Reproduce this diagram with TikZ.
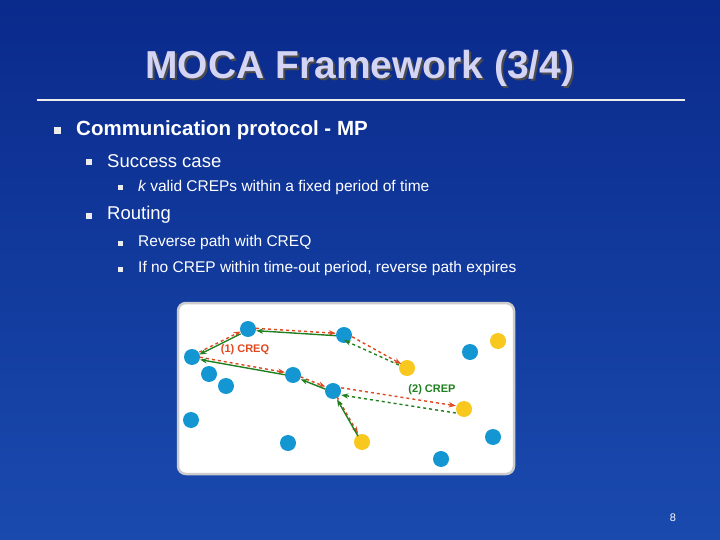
\documentclass[tikz,border=0pt]{standalone}
\usepackage{fontspec}
\setmainfont{Liberation Sans}
\usetikzlibrary{arrows.meta}
\definecolor{bgA}{HTML}{0A2A8C}
\definecolor{bgB}{HTML}{1A4AAE}
\definecolor{ttl}{HTML}{D4D4F4}
\definecolor{nb}{HTML}{1496D2}
\definecolor{ny}{HTML}{F8C81E}
\definecolor{rd}{HTML}{E04820}
\definecolor{gr}{HTML}{208020}
\tikzset{
 txt/.style={text=white,anchor=west,inner sep=0pt},
 bul/.style={fill=white!85!gray,minimum size=7pt,inner sep=0pt},
 bn/.style={circle,fill=nb,minimum size=16pt,inner sep=0pt},
 yn/.style={circle,fill=ny,minimum size=16pt,inner sep=0pt},
 rq/.style={rd,dashed,line width=1.4pt,-{Stealth[length=7pt]},transform canvas={shift={(0pt,1.2pt)}}},
 rp/.style={gr,line width=1.4pt,-{Stealth[length=7pt]},transform canvas={shift={(0pt,-1.2pt)}}},
 rpd/.style={gr,dashed,line width=1.4pt,-{Stealth[length=7pt]}}
}
\begin{document}
\begin{tikzpicture}[x=1pt,y=-1pt]
\useasboundingbox (0,0) rectangle (720,540);
\shade[top color=bgA,bottom color=bgB] (0,0) rectangle (720,540);
\node[text=black!70,font=\bfseries\fontsize{39}{44}\selectfont] (tsh) at (362,70) {MOCA Framework (3/4)};
\node[text=ttl,font=\bfseries\fontsize{39}{44}\selectfont] (t) at (360,68) {MOCA Framework (3/4)};
\draw[white!85!gray,line width=2pt] (37,100) -- (685,100);
\node[bul] (b1) at (57,131) {};
\node[txt,font=\bfseries\fontsize{20.5}{24}\selectfont] (l1) at (76,130) {Communication protocol - MP};
\node[bul,minimum size=6pt] (b2) at (89,162) {};
\node[txt,font=\fontsize{18.5}{22}\selectfont] (l2) at (107,161) {Success case};
\node[bul,minimum size=5pt] (b3) at (120,188) {};
\node[txt,font=\fontsize{15.5}{19}\selectfont] (l3) at (138,187) {\itshape k\upshape\ valid CREPs within a fixed period of time};
\node[bul,minimum size=6pt] (b4) at (89,216) {};
\node[txt,font=\fontsize{18.5}{22}\selectfont] (l4) at (107,215) {Routing};
\node[bul,minimum size=5pt] (b5) at (120,243) {};
\node[txt,font=\fontsize{15.5}{19}\selectfont] (l5) at (138,242) {Reverse path with CREQ};
\node[bul,minimum size=5pt] (b6) at (120,269) {};
\node[txt,font=\fontsize{15.5}{19}\selectfont] (l6) at (138,268) {If no CREP within time-out period, reverse path expires};
\draw[rounded corners=8pt,fill=white,draw=gray!40,line width=2.5pt] (178,303) rectangle (514,474);
\node[bn] (A) at (248,329) {};
\node[bn] (B) at (344,335) {};
\node[yn] (C) at (407,368) {};
\node[bn] (D) at (192,357) {};
\node[bn] (E) at (209,374) {};
\node[bn] (F) at (226,386) {};
\node[bn] (G) at (293,375) {};
\node[bn] (H) at (333,391) {};
\node[yn] (I) at (362,442) {};
\node[yn] (J) at (464,409) {};
\node[bn] (K) at (470,352) {};
\node[yn] (L) at (498,341) {};
\node[bn] (M) at (191,420) {};
\node[bn] (N) at (288,443) {};
\node[bn] (O) at (493,437) {};
\node[bn] (P) at (441,459) {};
\draw[rq] (D) -- (A);
\draw[rp] (A) -- (D);
\draw[rq] (A) -- (B);
\draw[rp] (B) -- (A);
\draw[rq] (D) -- (G);
\draw[rp] (G) -- (D);
\draw[rq] (G) -- (H);
\draw[rp] (H) -- (G);
\draw[rq] (H) -- (I);
\draw[rp] (I) -- (H);
\draw[rq] ([yshift=-3]B.east) -- ([yshift=-3]C.north west);
\draw[rpd] ([yshift=3]C.west) -- ([yshift=3]B.south);
\draw[rq] ([yshift=2]H.east) -- ([yshift=2]J.west);
\draw[rpd] ([yshift=-4]J.west) -- ([yshift=-4]H.east);
\node[text=rd,font=\bfseries\fontsize{11}{13}\selectfont] (q) at (245,350) {(1) CREQ};
\node[text=gr,font=\bfseries\fontsize{11}{13}\selectfont] (p) at (432,390) {(2) CREP};
\node[text=white,font=\fontsize{11}{13}\selectfont] (pg) at (673,518) {8};
\end{tikzpicture}
\end{document}
